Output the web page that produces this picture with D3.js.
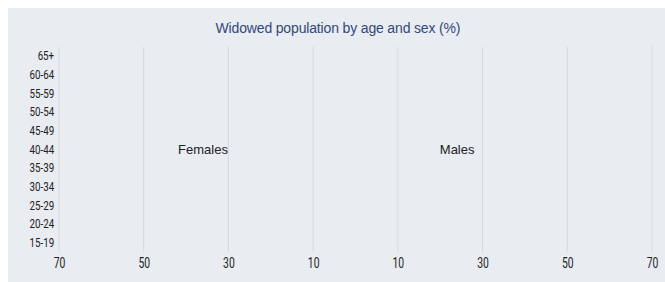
<!DOCTYPE html>
<html>
<head>
<meta charset="utf-8">
<script src="https://cdn.jsdelivr.net/npm/d3@7"></script>
<style>
  body { margin: 0; background: #fff; }
  svg text { font-family: "Liberation Sans", Arial, sans-serif; }
  .tick text { font-family: Roboto, "Liberation Sans", sans-serif; }
</style>
</head>
<body>
<div id="chart"></div>
<script>
'use strict';
// age groups, bottom to top
var ageGroups = ['15-19', '20-24', '25-29', '30-34', '35-39', '40-44', '45-49', '50-54', '55-59', '60-64', '65+'];
// no bars are drawn in the reference, values are empty
var females = [];
var males = [];
var xTicks = [-70, -50, -30, -10, 10, 30, 50, 70];
var sideLabels = [
    { text: 'Females', value: -36, age: '40-44' },
    { text: 'Males', value: 24, age: '40-44' }
];

var width = 665,
    height = 282;

var svg = d3.select('#chart').append('svg')
    .attr('width', width)
    .attr('height', height);

svg.append('rect')
    .attr('x', 8).attr('y', 8)
    .attr('width', width - 8).attr('height', height - 8)
    .attr('fill', '#e9ecf1');

svg.append('text')
    .attr('x', 338)
    .attr('y', 33)
    .attr('text-anchor', 'middle')
    .attr('fill', '#34497a')
    .style('font-size', '14px')
    .attr('textLength', 245)
    .text('Widowed population by age and sex (%)');

var x = d3.scaleLinear().domain([-70, 70]).range([59, 652]);
var y = d3.scaleBand().domain(ageGroups).range([252, 47]);

// grid
svg.append('g')
    .selectAll('line')
    .data(xTicks)
    .enter().append('line')
    .attr('x1', function(d) { return x(d); })
    .attr('x2', function(d) { return x(d); })
    .attr('y1', 47)
    .attr('y2', 252)
    .attr('stroke', '#d6d8dc')
    .attr('stroke-width', 1);

// bars (empty)
svg.append('g').selectAll('rect')
    .data(females)
    .enter().append('rect')
    .attr('x', function(d) { return x(-d); })
    .attr('y', function(d, i) { return y(ageGroups[i]); })
    .attr('width', function(d) { return x(0) - x(-d); })
    .attr('height', y.bandwidth() * 0.8)
    .attr('fill', '#c0504d');
svg.append('g').selectAll('rect')
    .data(males)
    .enter().append('rect')
    .attr('x', x(0))
    .attr('y', function(d, i) { return y(ageGroups[i]); })
    .attr('width', function(d) { return x(d) - x(0); })
    .attr('height', y.bandwidth() * 0.8)
    .attr('fill', '#4f81bd');

var xAxis = d3.axisBottom(x)
    .tickValues(xTicks)
    .tickSize(0)
    .tickPadding(6)
    .tickFormat(function(d) { return Math.abs(d); });

var gx = svg.append('g')
    .attr('transform', 'translate(0,252)')
    .call(xAxis);
gx.select('.domain').remove();
// squeeze to look like a condensed face
gx.selectAll('text').attr('fill', '#222').style('font-size', '14px')
    .attr('transform', 'scale(0.74,1)');

var yAxis = d3.axisLeft(y).tickSize(0).tickPadding(6.5);
var gy = svg.append('g')
    .attr('transform', 'translate(59,0)')
    .call(yAxis);
gy.select('.domain').remove();
gy.selectAll('text').attr('fill', '#222').style('font-size', '13px')
    .attr('transform', 'scale(0.75,1)');

svg.append('g').selectAll('text')
    .data(sideLabels)
    .enter().append('text')
    .attr('x', function(d) { return x(d.value); })
    .attr('y', function(d) { return y(d.age) + y.bandwidth() / 2; })
    .attr('dy', '0.35em')
    .attr('text-anchor', 'middle')
    .attr('fill', '#222')
    .style('font-size', '13px')
    .text(function(d) { return d.text; });
</script>
</body>
</html>
